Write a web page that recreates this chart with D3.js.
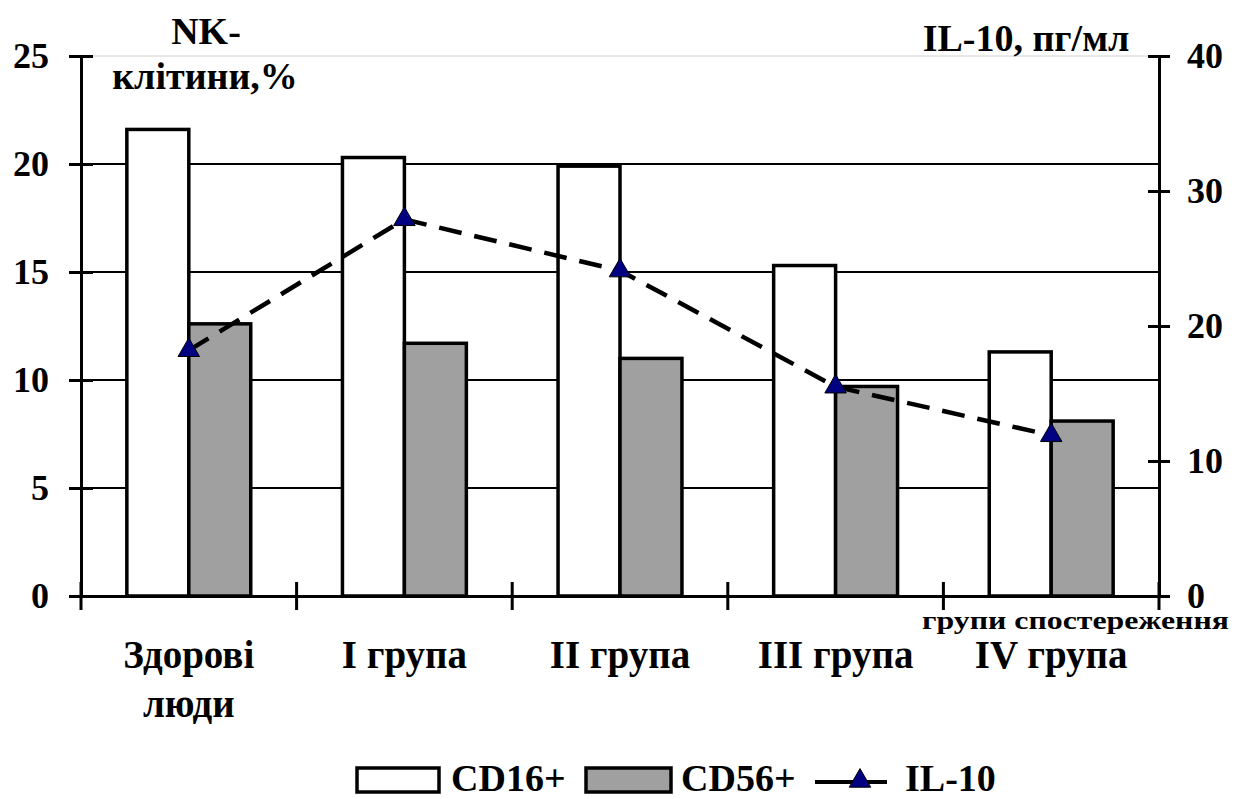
<!DOCTYPE html>
<html>
<head>
<meta charset="utf-8">
<script src="https://cdn.jsdelivr.net/npm/d3@7"></script>
<style>
  body { margin: 0; background: #fff; }
  svg text { font-family: "Times New Roman", "Liberation Serif", Times, "DejaVu Serif", serif; font-weight: bold; fill: #000; }
</style>
</head>
<body>
<svg id="chart" width="1244" height="799"></svg>
<script>
// data
const groups = ["Здорові люди", "I група", "II група", "III група", "IV група"];
const cd16 = [21.6, 20.3, 19.9, 15.3, 11.3];
const cd56 = [12.6, 11.7, 11.0, 9.7, 8.1];
const il10 = [18.2, 27.9, 24.1, 15.5, 11.9];
const leftTicks = [0, 5, 10, 15, 20, 25];
const rightTicks = [0, 10, 20, 30, 40];

const serif = '"Times New Roman", "Liberation Serif", Times, "DejaVu Serif", serif';
const svg = d3.select("#chart");

const plotL = 81, plotR = 1159, plotT = 56, plotB = 596;

const x0 = d3.scaleBand().domain(groups).range([plotL, plotR]).padding(0);
const x1 = d3.scaleBand().domain(["cd16", "cd56"]).range([0, x0.bandwidth()])
  .paddingInner(0).paddingOuter(0.74);
const y = d3.scaleLinear().domain([0, 25]).range([plotB, plotT]);
const y2 = d3.scaleLinear().domain([0, 40]).range([plotB, plotT]);

// gridlines
svg.append("g").selectAll("line")
  .data(leftTicks.filter(d => d > 0))
  .enter().append("line")
  .attr("x1", plotL).attr("x2", plotR)
  .attr("y1", d => y(d)).attr("y2", d => y(d))
  .attr("stroke", d => d === 25 ? "#d0d0d0" : "#000")
  .attr("stroke-width", d => d === 25 ? 1 : 2);

// bars
const barG = svg.append("g").selectAll("g")
  .data(groups)
  .enter().append("g")
  .attr("transform", d => `translate(${x0(d)},0)`);

barG.append("rect")
  .attr("x", x1("cd16"))
  .attr("width", x1.bandwidth())
  .attr("y", (d, i) => y(cd16[i]))
  .attr("height", (d, i) => plotB - y(cd16[i]))
  .attr("fill", "#fff").attr("stroke", "#000").attr("stroke-width", 3.5);

barG.append("rect")
  .attr("x", x1("cd56"))
  .attr("width", x1.bandwidth())
  .attr("y", (d, i) => y(cd56[i]))
  .attr("height", (d, i) => plotB - y(cd56[i]))
  .attr("fill", "#a0a0a0").attr("stroke", "#000").attr("stroke-width", 3.5);

// il-10 line
const cx = d => x0(d) + x0.bandwidth() / 2;
const line = d3.line()
  .x((d, i) => cx(groups[i]))
  .y(d => y2(d));

svg.append("path")
  .datum(il10)
  .attr("d", line)
  .attr("fill", "none")
  .attr("stroke", "#000")
  .attr("stroke-width", 4.5)
  .attr("stroke-dasharray", "23,13");

const tri = d3.symbol().type(d3.symbolTriangle).size(200);
svg.append("g").selectAll("path")
  .data(il10)
  .enter().append("path")
  .attr("d", tri)
  .attr("transform", (d, i) => `translate(${cx(groups[i])},${y2(d)})`)
  .attr("fill", "#000080").attr("stroke", "#000").attr("stroke-width", 1);

// left axis
const leftAxis = d3.axisLeft(y).tickValues(leftTicks).tickSizeInner(0).tickSizeOuter(0).tickFormat(d3.format("d"));
const gl = svg.append("g").attr("transform", `translate(${plotL},0)`).call(leftAxis)
  .attr("font-family", serif).attr("font-size", 36);
gl.select(".domain").attr("stroke", "#000").attr("stroke-width", 3);
gl.selectAll(".tick line").attr("x1", -12).attr("x2", 12).attr("stroke", "#000").attr("stroke-width", 3);
gl.selectAll(".tick text").attr("x", -32).attr("dy", "0.33em");

// right axis
const rightAxis = d3.axisRight(y2).tickValues(rightTicks).tickSizeInner(0).tickSizeOuter(0).tickFormat(d3.format("d"));
const gr = svg.append("g").attr("transform", `translate(${plotR},0)`).call(rightAxis)
  .attr("font-family", serif).attr("font-size", 36);
gr.select(".domain").attr("stroke", "#000").attr("stroke-width", 3);
gr.selectAll(".tick line").attr("x1", -11).attr("x2", 11).attr("stroke", "#000").attr("stroke-width", 3);
gr.selectAll(".tick text").attr("x", 28).attr("dy", "0.33em");

// x axis with category ticks between groups
const xAxis = d3.axisBottom(x0).tickSize(0).tickFormat("");
const gx = svg.append("g").attr("transform", `translate(0,${plotB})`).call(xAxis);
gx.select(".domain").attr("stroke", "#000").attr("stroke-width", 3);
gx.selectAll(".tick").remove();
gx.selectAll("line.sep")
  .data(groups.concat(["end"]))
  .enter().append("line")
  .attr("class", "sep")
  .attr("x1", (d, i) => i < groups.length ? x0(d) : plotR)
  .attr("x2", (d, i) => i < groups.length ? x0(d) : plotR)
  .attr("y1", -14).attr("y2", 14)
  .attr("stroke", "#000").attr("stroke-width", 3);

// category labels
const catG = svg.append("g").selectAll("text")
  .data(groups)
  .enter().append("text")
  .attr("text-anchor", "middle")
  .attr("x", d => cx(d))
  .attr("y", 668)
  .style("font-size", "39px");
catG.each(function(d) {
  const t = d3.select(this);
  if (d === "Здорові люди") {
    t.append("tspan").attr("x", cx(d)).text("Здорові");
    t.append("tspan").attr("x", cx(d)).attr("dy", 49).text("люди");
  } else {
    t.text(d);
  }
});

// axis titles
svg.append("text").attr("x", 206).attr("y", 44).attr("text-anchor", "middle").style("font-size", "38px").text("NK-");
svg.append("text").attr("x", 205).attr("y", 89).attr("text-anchor", "middle").style("font-size", "38px").text("клітини,%");
svg.append("text").attr("x", 1026).attr("y", 51).attr("text-anchor", "middle").style("font-size", "38px").text("IL-10, пг/мл");
svg.append("text").attr("x", 1229).attr("y", 629).attr("text-anchor", "end").attr("textLength", 307)
  .attr("lengthAdjust", "spacingAndGlyphs").style("font-size", "26px").text("групи спостереження");

// legend
const lg = svg.append("g");
lg.append("rect").attr("x", 357).attr("y", 768).attr("width", 82).attr("height", 24)
  .attr("fill", "#fff").attr("stroke", "#000").attr("stroke-width", 3.5);
lg.append("text").attr("x", 451).attr("y", 791).style("font-size", "38px").text("CD16+");
lg.append("rect").attr("x", 586).attr("y", 768).attr("width", 85).attr("height", 24)
  .attr("fill", "#a0a0a0").attr("stroke", "#000").attr("stroke-width", 3.5);
lg.append("text").attr("x", 681).attr("y", 791).style("font-size", "38px").text("CD56+");
lg.append("line").attr("x1", 815).attr("x2", 887).attr("y1", 782).attr("y2", 782)
  .attr("stroke", "#000").attr("stroke-width", 4);
lg.append("path").attr("d", tri).attr("transform", "translate(860,781)")
  .attr("fill", "#000080").attr("stroke", "#000").attr("stroke-width", 1);
lg.append("text").attr("x", 905).attr("y", 791).style("font-size", "38px").text("IL-10");
</script>
</body>
</html>
